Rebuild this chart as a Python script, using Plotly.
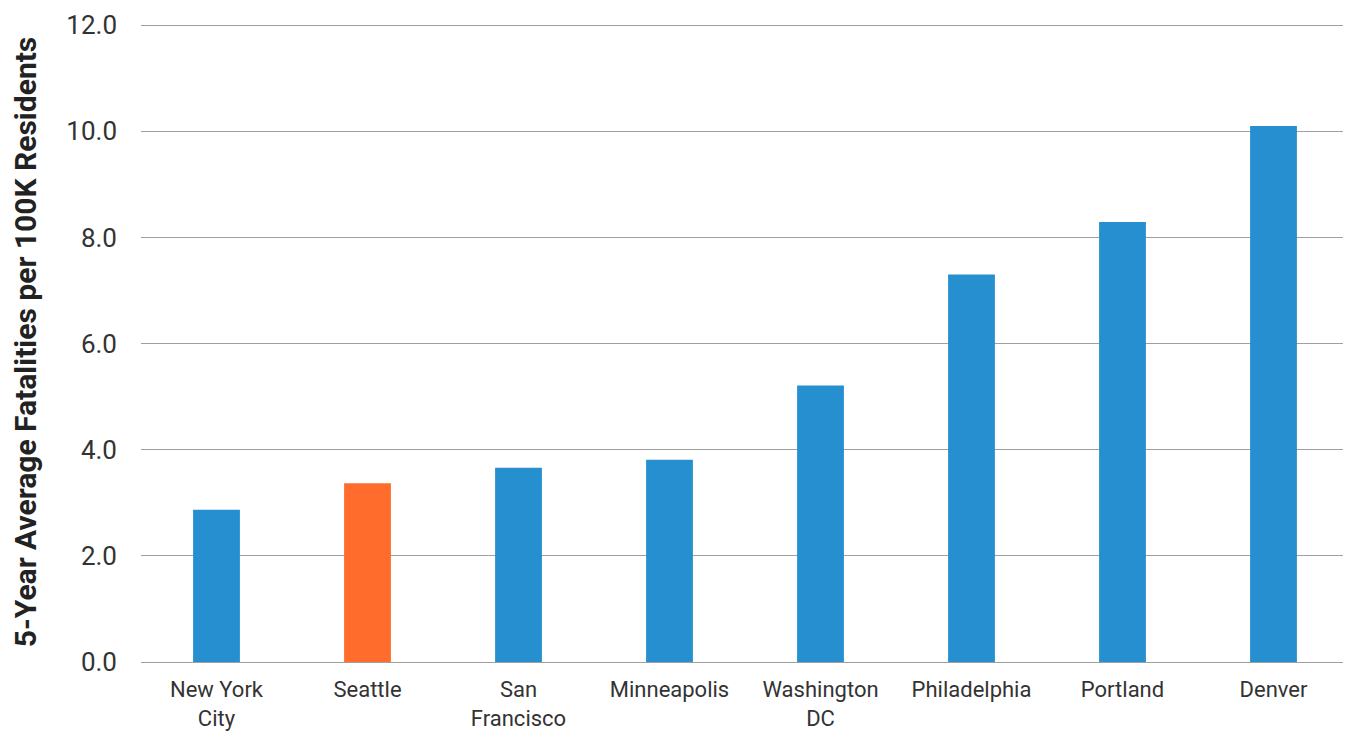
import plotly.graph_objects as go

cities = ["New York<br>City", "Seattle", "San<br>Francisco", "Minneapolis",
          "Washington<br>DC", "Philadelphia", "Portland", "Denver"]
values = [2.87, 3.37, 3.66, 3.81, 5.21, 7.30, 8.29, 10.10]
colors = ["#258FCF", "#FF6C2C", "#258FCF", "#258FCF",
          "#258FCF", "#258FCF", "#258FCF", "#258FCF"]
y_ticks = [0, 2, 4, 6, 8, 10, 12]
y_tick_labels = ["0.0", "2.0", "4.0", "6.0", "8.0", "10.0", "12.0"]

fig = go.Figure(go.Bar(
    x=cities, y=values, marker=dict(color=colors, line=dict(width=0)),
    width=0.31,
))

# page body has an 8px margin, so offsets are compensated here
fig.update_layout(
    width=1343, height=724,
    margin=dict(l=133, r=2, t=14, b=70),
    plot_bgcolor="white", paper_bgcolor="white",
    font=dict(family="Roboto, sans-serif", color="#333333"),
    showlegend=False,
)
fig.update_xaxes(
    tickfont=dict(size=22, color="#333333"),
    showgrid=False, showline=False, ticks="",
    ticklabelstandoff=12, automargin=False,
)
fig.update_yaxes(
    range=[0, 12.06], tickvals=y_ticks, ticktext=y_tick_labels,
    tickfont=dict(size=26, color="#333333"),
    showgrid=True, gridcolor="#A0A0A0", gridwidth=1,
    zeroline=True, zerolinecolor="#A0A0A0", zerolinewidth=1,
    ticklabelstandoff=23, automargin=False,
    title=dict(text="<b>5-Year Average Fatalities per 100K Residents</b>",
               font=dict(size=30, family="Roboto, sans-serif", color="#222222"),
               standoff=27),
)

fig.write_html("out.html")
